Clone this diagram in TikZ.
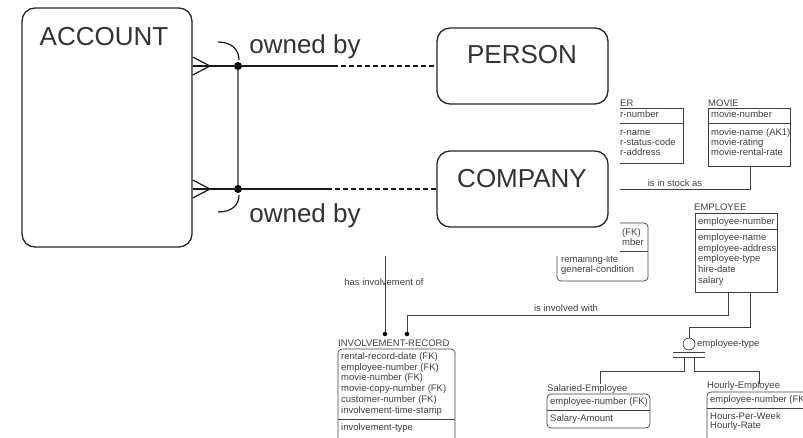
\documentclass[tikz,border=0pt]{standalone}
\usepackage{fontspec}
\setmainfont{Liberation Sans}

\tikzset{
  bigbox/.style={draw=black!85, line width=1.3pt, rounded corners=13pt, inner sep=0pt},
  bigtext/.style={font=\fontsize{26}{30}\selectfont, text=black!80, inner sep=0pt},
  conn/.style={draw=black!90, line width=1.2pt},
  ebox/.style={draw=black!75, line width=0.7pt, inner sep=0pt},
  depbox/.style={ebox, rounded corners=4pt},
  attr/.style={font=\fontsize{9.5}{10.5}\selectfont, text=black!75, anchor=west,
    inner sep=0pt, text height=6.5pt, text depth=2pt},
  relname/.style={attr, anchor=center},
  rel/.style={draw=black!75, line width=0.7pt},
  dot/.style={circle, fill=black, inner sep=0pt, minimum size=#1},
}

\begin{document}
\begin{tikzpicture}[x=1pt, y=-1pt]
    \path[use as bounding box, clip] (0,0) rectangle (803,437);

    % Background model: entities
    \node[ebox, minimum width=123pt, minimum height=55pt] (customer) at (621.5,135.5) {};
    \draw[rel] (customer.west |- 0,123) -- (customer.east |- 0,123);
    \node[attr] (custname) at (620,104) {ER};
    \node[attr] (custkey) at (620,115) {r-number};
    \foreach \t [count=\i from 0] in {r-name, r-status-code, r-address}{
        \node[attr] (cust\i) at (620,{133+10.2*\i}) {\t};
    }

    \node[ebox, minimum width=82pt, minimum height=58pt] (movie) at (749,137) {};
    \draw[rel] (movie.west |- 0,123) -- (movie.east |- 0,123);
    \node[attr] (moviename) at (708,104) {MOVIE};
    \node[attr] (moviekey) at (711,115) {movie-number};
    \foreach \t [count=\i from 0] in {movie-name (AK1), movie-rating, movie-rental-rate}{
        \node[attr] (mv\i) at (711,{133+10.2*\i}) {\t};
    }

    \node[depbox, minimum width=91pt, minimum height=58pt] (rental) at (602.5,252) {};
    \draw[rel] (rental.west |- 0,251) -- (rental.east |- 0,251);
    \node[attr] (rentfk) at (622,233) {(FK)};
    \node[attr] (rentkey) at (622,243) {mber};
    \node[attr] (rentlife) at (561,260) {remaining-life};
    \node[attr] (rentcond) at (561,270.5) {general-condition};

    \node[ebox, minimum width=82pt, minimum height=79pt] (employee) at (736,252.5) {};
    \draw[rel] (employee.west |- 0,229) -- (employee.east |- 0,229);
    \node[attr] (empname) at (694,208) {EMPLOYEE};
    \node[attr] (empkey) at (698,222) {employee-number};
    \foreach \t [count=\i from 0] in {employee-name, employee-address, employee-type, hire-date, salary}{
        \node[attr] (emp\i) at (698,{238+10.75*\i}) {\t};
    }

    \node[depbox, minimum width=117pt, minimum height=101pt] (involve) at (396.5,399.5) {};
    \draw[rel] (involve.west |- 0,419) -- (involve.east |- 0,419);
    \node[attr] (invname) at (338,344) {INVOLVEMENT-RECORD};
    \foreach \t [count=\i from 0] in {rental-record-date (FK), employee-number (FK), movie-number (FK),
        movie-copy-number (FK), customer-number (FK), involvement-time-stamp}{
        \node[attr] (inv\i) at (341,{357+10.8*\i}) {\t};
    }
    \node[attr] (invtype) at (341,428) {involvement-type};

    \node[depbox, minimum width=103pt, minimum height=34pt] (salaried) at (598.5,411) {};
    \draw[rel] (salaried.west |- 0,410) -- (salaried.east |- 0,410);
    \node[attr] (salname) at (547,389) {Salaried-Employee};
    \node[attr] (salkey) at (550,402) {employee-number (FK)};
    \node[attr] (salamount) at (550,419) {Salary-Amount};

    \node[depbox, minimum width=113pt, minimum height=58pt] (hourly) at (763.5,421) {};
    \draw[rel] (hourly.west |- 0,408) -- (hourly.east |- 0,408);
    \node[attr] (hourname) at (707,386) {Hourly-Employee};
    \node[attr] (hourkey) at (710,400) {employee-number (FK};
    \node[attr] (hourweek) at (710,417) {Hours-Per-Week};
    \node[attr] (hourrate) at (710,426) {Hourly-Rate};

    % Background model: relationships
    \coordinate (stockend) at (620,189);
    \draw[rel] (movie.south -| 750,0) |- (stockend);
    \node[relname] (stocklabel) at (675,184) {is in stock as};

    \coordinate (hastop) at (385,250);
    \node[dot=4.5pt] (invdot1) at (385,334) {};
    \draw[rel] (hastop) -- (invdot1);
    \node[relname] (haslabel) at (384,283) {has involvement of};

    \node[dot=4.5pt] (invdot2) at (407,334) {};
    \draw[rel] (employee.south -| 728,0) |- (407,315) -- (invdot2);
    \node[relname] (withlabel) at (566,309) {is involved with};

    % Subtype cluster
    \node[circle, draw=black!75, line width=0.7pt, inner sep=0pt, minimum size=12pt] (cat) at (689,344) {};
    \node[attr] (catlabel) at (697,344) {employee-type};
    \draw[rel] (employee.south -| 750,0) |- (689,327) -- (cat.north);
    \draw[rel] (673,352) -- (705,352);
    \draw[rel] (673,357) -- (705,357);
    \coordinate (saltop) at (600,384);
    \coordinate (hourtop) at (759,384);
    \draw[rel] (684,357) |- (600,371) -- (saltop);
    \draw[rel] (694,357) |- (759,371) -- (hourtop);

    % White cover for the front diagram
    \fill[white] (0,0) rectangle (620,256);

    % Front diagram: entities
    \node[bigbox, minimum width=170pt, minimum height=239pt] (account) at (107,127.5) {};
    \node[bigtext] (accname) at (104,37) {ACCOUNT};
    \node[bigbox, minimum width=171pt, minimum height=76pt] (person) at (522.5,66) {};
    \node[bigtext] (personname) at (522,55) {PERSON};
    \node[bigbox, minimum width=171pt, minimum height=76pt] (company) at (522.5,189) {};
    \node[bigtext] (companyname) at (522,179) {COMPANY};

    % Front diagram: owned by (exclusive arc)
    \node[dot=8pt] (d1) at (238,66) {};
    \node[dot=8pt] (d2) at (238,189) {};
    \draw[black!55, line width=2pt] (d1.south) -- (d2.north);

    \coordinate (foot1) at (210,66);
    \coordinate (dash1) at (333,66);
    \draw[conn] (account.east |- 0,57) -- (foot1) -- (account.east |- 0,75);
    \draw[conn] (account.east |- foot1) -- (dash1);
    \draw[conn, dash pattern=on 5pt off 3pt] (dash1) -- (person.west);

    \coordinate (foot2) at (210,189);
    \coordinate (dash2) at (327,189);
    \draw[conn] (account.east |- 0,180) -- (foot2) -- (account.east |- 0,198);
    \draw[conn] (account.east |- foot2) -- (dash2);
    \draw[conn, dash pattern=on 5pt off 3pt] (dash2) -- (company.west);

    \draw[conn] (218,42) .. controls (232,42) and (239,50) .. (239,60);
    \draw[conn] (239,195) .. controls (239,205) and (232,212) .. (218,212);

    \node[bigtext, anchor=base] (ownedtop) at (305,53) {owned by};
    \node[bigtext, anchor=base] (ownedbot) at (305,222) {owned by};

\end{tikzpicture}
\end{document}
